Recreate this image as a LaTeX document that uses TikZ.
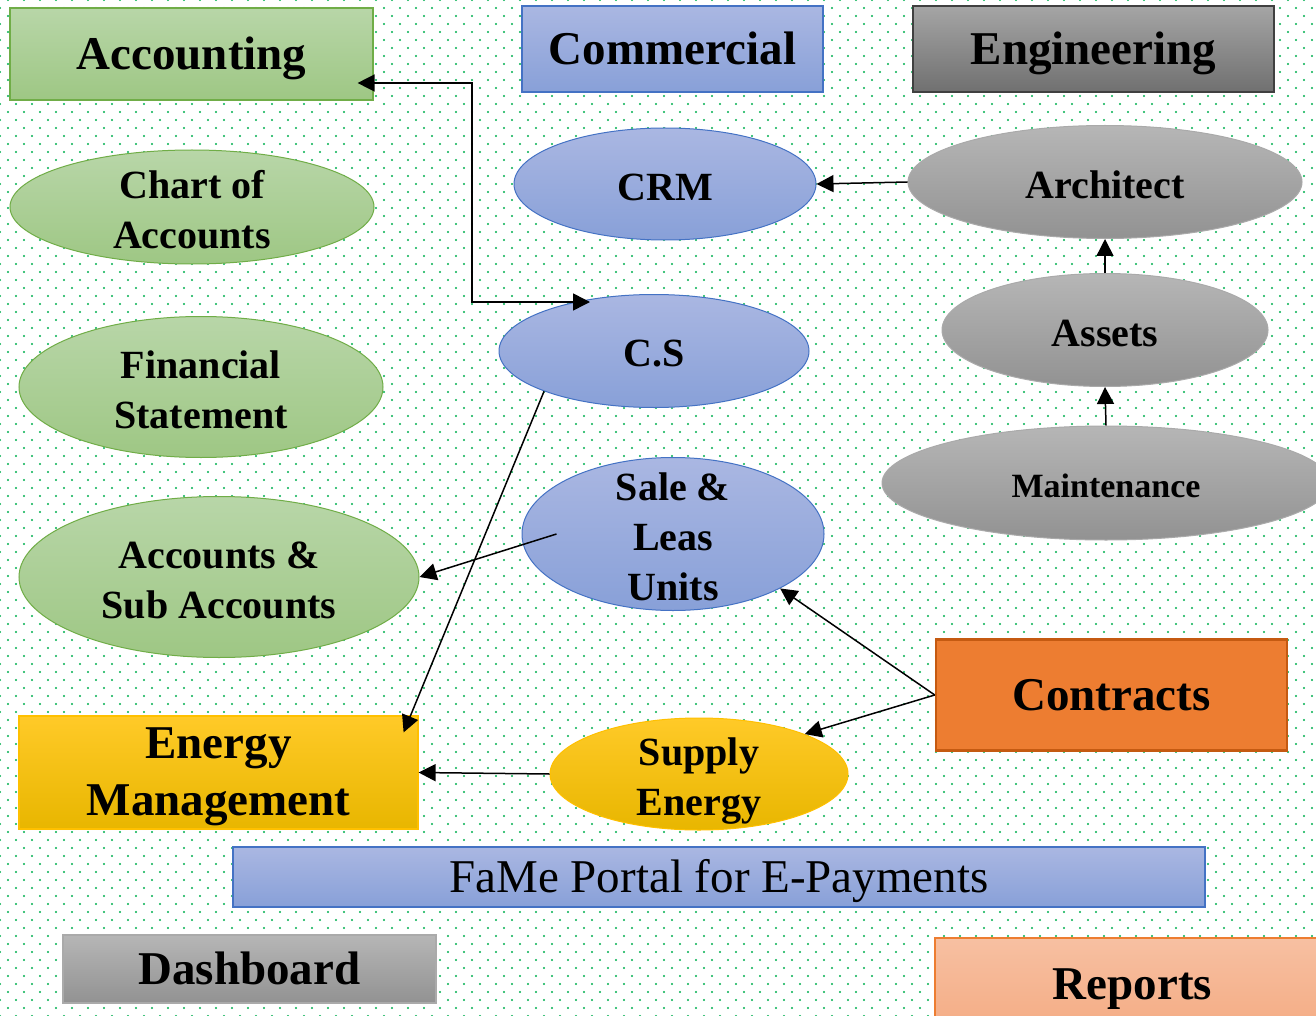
\documentclass[tikz,border=0pt]{standalone}
\usepackage{fontspec}
\setmainfont{Liberation Serif}
\usetikzlibrary{shapes.geometric,arrows.meta,patterns.meta}
\definecolor{dotg}{RGB}{0,176,80}
\definecolor{gtop}{RGB}{184,214,168}
\definecolor{gbot}{RGB}{158,199,132}
\definecolor{gbrd}{RGB}{112,173,71}
\definecolor{btop}{RGB}{170,183,226}
\definecolor{bbot}{RGB}{136,160,216}
\definecolor{bbrd}{RGB}{68,114,196}
\definecolor{ktop}{RGB}{182,182,182}
\definecolor{kbot}{RGB}{146,146,146}
\definecolor{kbrd}{RGB}{170,170,170}
\definecolor{etop}{RGB}{165,165,165}
\definecolor{ebot}{RGB}{112,112,112}
\definecolor{ebrd}{RGB}{64,64,64}
\definecolor{ytop}{RGB}{255,202,40}
\definecolor{ybot}{RGB}{232,182,0}
\definecolor{ybrd}{RGB}{255,192,0}
\definecolor{orfill}{RGB}{237,125,49}
\definecolor{orbrd}{RGB}{197,90,17}
\definecolor{rtop}{RGB}{247,192,162}
\definecolor{rbot}{RGB}{244,172,132}
\tikzdeclarepattern{
  name=gdots,
  type=colored,
  bottom left={(-2pt,-2pt)},
  top right={(14pt,14pt)},
  tile size={(16pt,16pt)},
  code={
    \fill[dotg] (0pt,0pt) circle (1.1pt);
    \fill[dotg] (8pt,8pt) circle (1.1pt);
  }
}
\tikzset{
  box/.style={rectangle, inner sep=0pt, line width=1.2pt, font=\fontsize{47}{56}\selectfont\bfseries, text height=31pt, text depth=0pt},
  boxtxt/.style={align=center, inner sep=0pt, font=\fontsize{47}{57}\selectfont\bfseries},
  ell/.style={ellipse, inner sep=0pt, line width=1pt},
  txt/.style={align=center, inner sep=0pt, yshift=-3pt, font=\fontsize{40}{50}\selectfont\bfseries},
  greenc/.style={top color=gtop, bottom color=gbot, draw=gbrd},
  bluec/.style={top color=btop, bottom color=bbot, draw=bbrd},
  grayc/.style={top color=ktop, bottom color=kbot, draw=kbrd},
  yellc/.style={top color=ytop, bottom color=ybot, draw=ybrd},
  arr/.style={-{Triangle[length=17pt,width=17pt]}, line width=1.5pt},
  darr/.style={{Triangle[length=17pt,width=17pt]}-{Triangle[length=17pt,width=17pt]}, line width=1.5pt}
}
\begin{document}
\begin{tikzpicture}[x=1pt,y=-1pt]
\useasboundingbox (0,0) rectangle (1316,1016);
\fill[white] (0,0) rectangle (1316,1016);
\fill[pattern=gdots] (0,0) rectangle (1316,1016);

% title boxes
\node[box, greenc, minimum width=363pt, minimum height=92pt] (acc) at (191.5,54) {Accounting};
\node[box, bluec, minimum width=301pt, minimum height=86pt] (com) at (672.5,49) {Commercial};
\node[box, top color=etop, bottom color=ebot, draw=ebrd, minimum width=361pt, minimum height=86pt] (eng) at (1093.5,49) {Engineering};
\node[rectangle, inner sep=0pt, line width=1.2pt, yellc, minimum width=399pt, minimum height=113pt, label={[boxtxt, yshift=-4pt]center:{Energy\\Management}}] (em) at (218.5,772.5) {};
\node[box, fill=orfill, draw=orbrd, line width=2.5pt, minimum width=351pt, minimum height=111pt] (con) at (1111.5,695) {Contracts};
\node[box, bluec, font=\fontsize{47}{56}\selectfont, minimum width=972pt, minimum height=60pt] (fame) at (719,877) {FaMe Portal for E-Payments};
\node[box, grayc, minimum width=373pt, minimum height=68pt] (dash) at (249.5,969) {Dashboard};
\node[box, top color=rtop, bottom color=rbot, draw=orfill, minimum width=395pt, minimum height=92pt] (rep) at (1132.5,984) {Reports};

% ellipses
\node[ell, greenc, minimum width=364pt, minimum height=114pt, label={[txt]center:{Chart of\\Accounts}}] (chart) at (192,207) {};
\node[ell, greenc, minimum width=364pt, minimum height=141pt, label={[txt]center:{Financial\\Statement}}] (fin) at (201,387) {};
\node[ell, greenc, minimum width=400pt, minimum height=161pt, label={[txt]center:{Accounts \&\\Sub Accounts}}] (acc2) at (219,577) {};
\node[ell, bluec, minimum width=302pt, minimum height=112pt, label={[txt]center:{CRM}}] (crm) at (665,184) {};
\node[ell, bluec, minimum width=310pt, minimum height=113pt, label={[txt]center:{C.S}}] (cs) at (654,351) {};
\node[ell, bluec, minimum width=302pt, minimum height=153pt, label={[txt]center:{Sale \&\\Leas\\Units}}] (sl) at (673,534) {};
\node[ell, yellc, minimum width=298pt, minimum height=112pt, label={[txt, yshift=-4pt]center:{Supply\\Energy}}] (sup) at (699,774) {};
\node[ell, grayc, minimum width=394pt, minimum height=113pt, label={[txt]center:{Architect}}] (arch) at (1105,182) {};
\node[ell, grayc, minimum width=326pt, minimum height=113pt, label={[txt]center:{Assets}}] (assets) at (1105,330) {};
\node[ell, grayc, minimum width=448pt, minimum height=114pt, label={[txt, font=\fontsize{34}{40}\selectfont\bfseries]center:{Maintenance}}] (maint) at (1106,483) {};

% connectors
\coordinate (k1) at (472,83);
\coordinate (k2) at (472,302);
\coordinate (k3) at (590,302);
\draw[darr] ([xshift=-16pt,yshift=-29pt]acc.east) -- (k1) -- (k2) -- (k3);
\draw[arr] (arch.west) -- (crm.east);
\draw[arr] (assets.north) -- (arch.south);
\draw[arr] (maint.north) -- (assets.south);
\draw[arr] (sup.west) -- (em.east);
\draw[arr] (con.west) -- (sl.south east);
\draw[arr] (con.west) -- (sup.north east);
\draw[arr] ([xshift=35pt]sl.west) -- (acc2.east);
\draw[arr] (cs.south west) -- ([xshift=-15pt,yshift=-17pt]em.north east);
\end{tikzpicture}
\end{document}
